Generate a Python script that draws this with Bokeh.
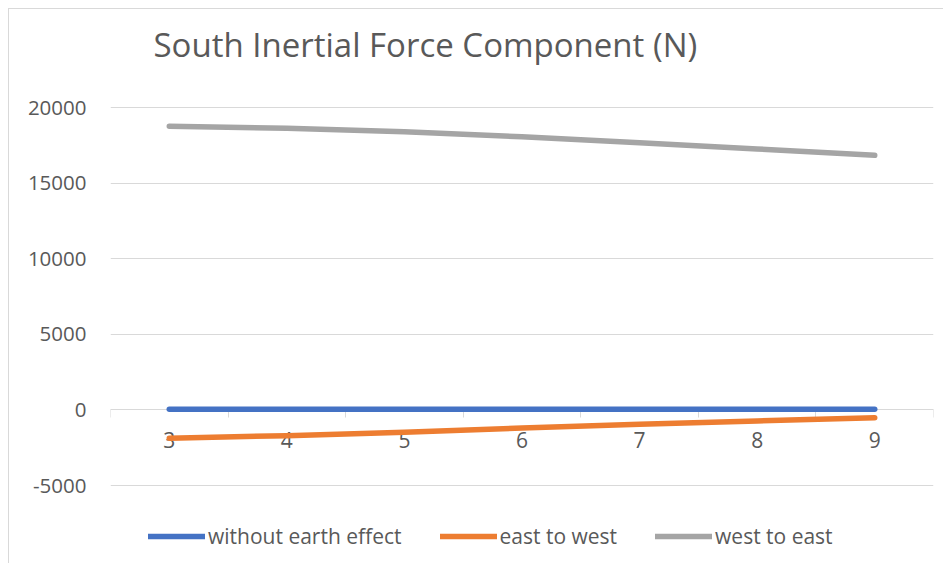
from bokeh.plotting import figure
from bokeh.models import (FixedTicker, LinearAxis, Legend, LegendItem, Range1d, ColumnDataSource,
                          Label, PrintfTickFormatter)
from bokeh.embed import file_html
from bokeh.resources import INLINE

# ---- data ----
speeds = [3, 4, 5, 6, 7, 8, 9]
without_earth_effect = [50, 50, 50, 50, 50, 50, 50]
east_to_west = [-1870, -1700, -1470, -1200, -950, -730, -510]
west_to_east = [18780, 18650, 18420, 18080, 17690, 17280, 16860]
y_ticks = [-5000, 0, 5000, 10000, 15000, 20000]
category_edges = [2.5, 3.5, 4.5, 5.5, 6.5, 7.5, 8.5, 9.5]
title_text = "South Inertial Force Component (N)"

TEXT = "#595959"
GRID = "#d9d9d9"
FONT = "Open Sans"

# layout: the plotting frame spans the full figure height; the visible value
# range (-5000..20000) occupies its middle part, title and legend sit in the
# remaining margins of the frame.
Y_START, Y_END = -10162, 26506

src = ColumnDataSource(dict(x=speeds, a=without_earth_effect, b=east_to_west, c=west_to_east))

p = figure(width=935, height=555, output_backend="svg", toolbar_location=None,
           x_range=Range1d(category_edges[0], category_edges[-1]),
           y_range=Range1d(Y_START, Y_END),
           x_axis_location=None,
           min_border_left=101, min_border_right=11, min_border_top=0, min_border_bottom=1,
           background_fill_color="white", border_fill_color="white",
           styles={"margin-left": "8px", "margin-top": "8px",
                   "border-left": "1px solid #d9d9d9", "border-top": "1px solid #d9d9d9"})
p.outline_line_color = None

# title
title = Label(text=title_text, x=43, y=519, x_units="screen", y_units="screen",
              text_font=FONT, text_font_size="33px", text_color=TEXT,
              text_baseline="alphabetic", text_align="left")
p.add_layout(title)

# y axis
ya = p.yaxis[0]
ya.ticker = FixedTicker(ticks=y_ticks)
ya.formatter = PrintfTickFormatter(format="%d")
ya.axis_line_color = None
ya.major_tick_line_color = None
ya.major_tick_out = 0
ya.major_tick_in = 0
ya.minor_tick_line_color = None
ya.major_label_standoff = 24
ya.major_label_text_font = FONT
ya.major_label_text_font_size = "20.5px"
ya.major_label_text_color = TEXT

p.xgrid.visible = False
p.ygrid.ticker = FixedTicker(ticks=y_ticks)
p.ygrid.grid_line_color = GRID
p.ygrid.grid_line_width = 1

# x axis crossing at zero (drawn beneath the data lines)
xa = LinearAxis(fixed_location=0, ticker=FixedTicker(ticks=speeds, minor_ticks=category_edges),
                level="underlay")
xa.axis_line_color = GRID
xa.axis_line_width = 1
xa.major_tick_line_color = None
xa.major_tick_out = 0
xa.major_tick_in = 0
xa.minor_tick_line_color = GRID
xa.minor_tick_in = 0
xa.minor_tick_out = 8
xa.major_label_standoff = 14
xa.major_label_text_font = FONT
xa.major_label_text_font_size = "21px"
xa.major_label_text_color = TEXT
p.add_layout(xa, "below")

r1 = p.line("x", "a", source=src, line_color="#4472C4", line_width=5.5, line_cap="round", line_join="round")
r2 = p.line("x", "b", source=src, line_color="#ED7D31", line_width=5.5, line_cap="round", line_join="round")
r3 = p.line("x", "c", source=src, line_color="#A5A5A5", line_width=5.5, line_cap="round", line_join="round")

legend = Legend(items=[LegendItem(label="without earth effect", renderers=[r1]),
                       LegendItem(label="east to west", renderers=[r2]),
                       LegendItem(label="west to east", renderers=[r3])],
                orientation="horizontal", location=(38, 13))
legend.glyph_width = 57
legend.glyph_height = 20
legend.label_standoff = 3
legend.spacing = 38
legend.padding = 0
legend.margin = 0
legend.border_line_color = None
legend.background_fill_alpha = 0
legend.label_text_font = FONT
legend.label_text_font_size = "21px"
legend.label_text_color = TEXT
p.add_layout(legend, "center")

open("out.html", "w").write(file_html(p, INLINE))
